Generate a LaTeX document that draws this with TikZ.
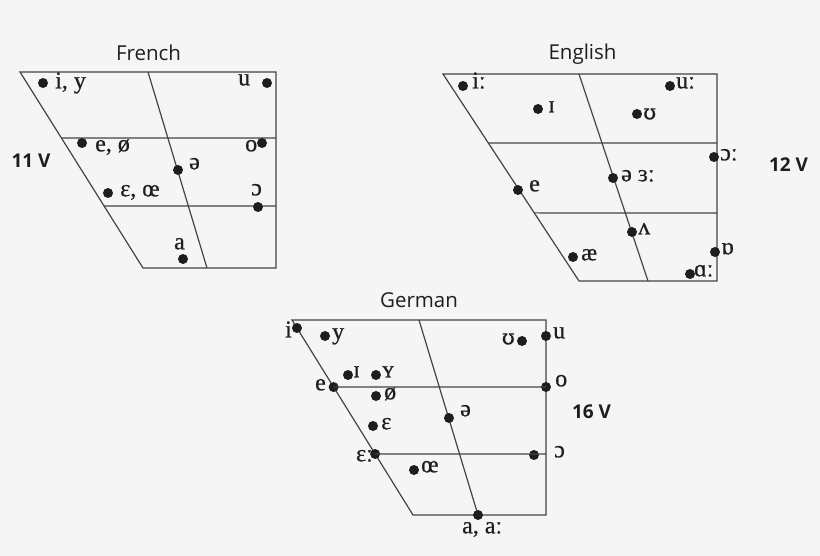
\documentclass[tikz,border=0pt]{standalone}
\usepackage{fontspec}
\setmainfont{Liberation Serif}
\newfontfamily\titlefont{Open Sans}
\newfontfamily\ipafont[FakeBold=0.6]{Liberation Serif}
\newfontfamily\ipaalt[FakeBold=0.6]{DejaVu Serif}
\newcommand{\upsil}{{\ipaalt\fontsize{21}{21}\selectfont ʊ}}
\usetikzlibrary{calc}
\definecolor{bg}{HTML}{F5F5F5}
\definecolor{ink}{HTML}{1E1E1E}
\definecolor{linecol}{HTML}{444444}
\tikzset{
  chart/.style={draw=linecol, line width=1.2pt, line join=miter},
  vdot/.style={circle, fill=ink, draw=none, inner sep=0pt, minimum size=10pt},
  ipa/.style={font=\ipafont\fontsize{24}{24}\selectfont, text=ink, inner sep=0pt},
  ttl/.style={font=\titlefont\fontsize{20.5}{20.5}\selectfont, text=ink, inner sep=0pt, anchor=base},
  cnt/.style={font=\titlefont\bfseries\fontsize{19}{19}\selectfont, text=ink, inner sep=0pt, anchor=base},
}
\begin{document}
\begin{tikzpicture}[x=1pt,y=-1pt]
\fill[bg] (0,0) rectangle (820,556);
\useasboundingbox (0,0) rectangle (820,556);

% ---------------- French ----------------
\coordinate (Ftl) at (20,72);
\coordinate (Ftr) at (276,72);
\coordinate (Fbr) at (276,268);
\coordinate (Fbl) at (143,268);
\coordinate (Fmt) at (148,72);
\coordinate (Fmb) at (207,268);
\coordinate (Fh1l) at ($(Ftl)!0.337!(Fbl)$);
\coordinate (Fh1r) at (276,138);
\coordinate (Fh2l) at ($(Ftl)!0.684!(Fbl)$);
\coordinate (Fh2r) at (276,206);
\draw[chart] (Ftl) -- (Ftr) -- (Fbr) -- (Fbl) -- cycle;
\draw[chart] (Fmt) -- (Fmb);
\draw[chart] (Fh1l) -- (Fh1r);
\draw[chart] (Fh2l) -- (Fh2r);
\node[ttl] (Ftitle) at (148.5,60.5) {French};
\node[cnt] (Fcount) at (31,168) {11 V};

\node[vdot] (Fi) at (43,83) {};
\node[ipa, anchor=mid west] (Fil) at (55,86) {i, y};
\node[vdot] (Fu) at (267,83) {};
\node[ipa, anchor=mid west] (Ful) at (238,83) {u};
\node[vdot] (Fe) at (82,143) {};
\node[ipa, anchor=mid west] (Fel) at (95,149) {e, ø};
\node[vdot] (Fo) at (262,143) {};
\node[ipa, anchor=mid west] (Fol) at (245,149) {o};
\node[vdot] (Fschwa) at (178,170) {};
\node[ipa, anchor=mid west] (Fschwal) at (189,167) {ə};
\node[vdot] (Feps) at (108,193) {};
\node[ipa, anchor=mid west] (Fepsl) at (120,194) {ɛ, œ};
\node[vdot] (Fopen) at (258,207) {};
\node[ipa, anchor=mid west] (Fopenl) at (251,193) {ɔ};
\node[vdot] (Fa) at (183,259) {};
\node[ipa, anchor=mid west] (Fal) at (174,247) {a};

% ---------------- English ----------------
\coordinate (Etl) at (443,74);
\coordinate (Etr) at (717,74);
\coordinate (Ebr) at (717,281);
\coordinate (Ebl) at (579,281);
\coordinate (Emt) at (579,74);
\coordinate (Emb) at (648,281);
\coordinate (Eh1l) at ($(Etl)!0.333!(Ebl)$);
\coordinate (Eh1r) at (717,143);
\coordinate (Eh2l) at ($(Etl)!0.671!(Ebl)$);
\coordinate (Eh2r) at (717,213);
\draw[chart] (Etl) -- (Etr) -- (Ebr) -- (Ebl) -- cycle;
\draw[chart] (Emt) -- (Emb);
\draw[chart] (Eh1l) -- (Eh1r);
\draw[chart] (Eh2l) -- (Eh2r);
\node[ttl] (Etitle) at (582.5,60) {English};
\node[cnt] (Ecount) at (788.5,171.5) {12 V};

\node[vdot] (Ei) at (463,86) {};
\node[ipa, anchor=mid west] (Eil) at (472,86) {iː};
\node[vdot] (EI) at (538,109) {};
\node[ipa, anchor=mid west] (EIl) at (548,110) {ɪ};
\node[vdot] (Eu) at (670,86) {};
\node[ipa, anchor=mid west] (Eul) at (676,86) {uː};
\node[vdot] (EU) at (637,114) {};
\node[ipa, anchor=mid west] (EUl) at (643,117) {\upsil};
\node[vdot] (Eo) at (714,157) {};
\node[ipa, anchor=mid west] (Eol) at (720,158) {ɔː};
\node[vdot] (Eschwa) at (613,178) {};
\node[ipa, anchor=mid west] (Eschwal) at (621,179) {ə ɜː};
\node[vdot] (Ee) at (518,190) {};
\node[ipa, anchor=mid west] (Eel) at (529,189) {e};
\node[vdot] (Ev) at (632,232) {};
\node[ipa, anchor=mid west] (Evl) at (638,232) {ʌ};
\node[vdot] (Eae) at (573,257) {};
\node[ipa, anchor=mid west] (Eael) at (581,258) {æ};
\node[vdot] (Eq) at (715,252) {};
\node[ipa, anchor=mid west] (Eql) at (721,252) {ɒ};
\node[vdot] (Ea) at (690,274) {};
\node[ipa, anchor=mid west] (Eal) at (694,274) {ɑː};

% ---------------- German ----------------
\coordinate (Gtl) at (292,320);
\coordinate (Gtr) at (546,320);
\coordinate (Gbr) at (546,515);
\coordinate (Gbl) at (413,515);
\coordinate (Gmt) at (419,320);
\coordinate (Gmb) at (478,515);
\draw[chart] (Gtl) -- (Gtr) -- (Gbr) -- (Gbl) -- cycle;
\draw[chart] (Gmt) -- (Gmb);
\node[ttl] (Gtitle) at (419,308) {German};
\node[cnt] (Gcount) at (591.5,418) {16 V};

\node[vdot] (Gi) at ($(Gtl)!0.041!(Gbl)$) {};
\node[ipa, anchor=mid east] (Gil) at (292,335) {i};
\node[vdot] (Gy) at (325,336) {};
\node[ipa, anchor=mid west] (Gyl) at (332,337) {y};
\node[vdot] (GU) at (522,341) {};
\node[ipa, anchor=mid east] (GUl) at (515,342) {\upsil};
\node[vdot] (Gu) at (546,336) {};
\node[ipa, anchor=mid west] (Gul) at (553,336) {u};
\node[vdot] (GI) at (348,375) {};
\node[ipa, anchor=mid west] (GIl) at (353,375) {ɪ};
\node[vdot] (GY) at (376,375) {};
\node[ipa, anchor=mid west] (GYl) at (382,375) {ʏ};
\node[vdot] (Ge) at ($(Gtl)!0.344!(Gbl)$) {};
\node[ipa, anchor=mid east] (Gel) at (326,388) {e};
\node[vdot] (Go) at (546,387) {};
\node[ipa, anchor=mid west] (Gol) at (555,384) {o};
\node[vdot] (Goe) at (376,396) {};
\node[ipa, anchor=mid west] (Goel) at (384,397) {ø};
\node[vdot] (Gschwa) at (449,418) {};
\node[ipa, anchor=mid west] (Gschwal) at (460,414) {ə};
\node[vdot] (Geps) at (373,426) {};
\node[ipa, anchor=mid west] (Gepsl) at (381,427) {ɛ};
\node[vdot] (Gepsl2) at ($(Gtl)!0.687!(Gbl)$) {};
\node[ipa, anchor=mid east] (Gepsll) at (373,459) {ɛː};
\node[vdot] (Gopen) at (534,455) {};
\node[ipa, anchor=mid west] (Gopenl) at (554,455) {ɔ};
\node[vdot] (Goe2) at (414,470) {};
\node[ipa, anchor=mid west] (Goe2l) at (421,470) {œ};
\node[vdot] (Ga) at (Gmb) {};
\node[ipa, anchor=mid west] (Gal) at (462,531) {a, aː};

\draw[chart] (Ge.center) -- (Go.center);
\draw[chart] (Gepsl2.center) -- (546,454);
\end{tikzpicture}
\end{document}
